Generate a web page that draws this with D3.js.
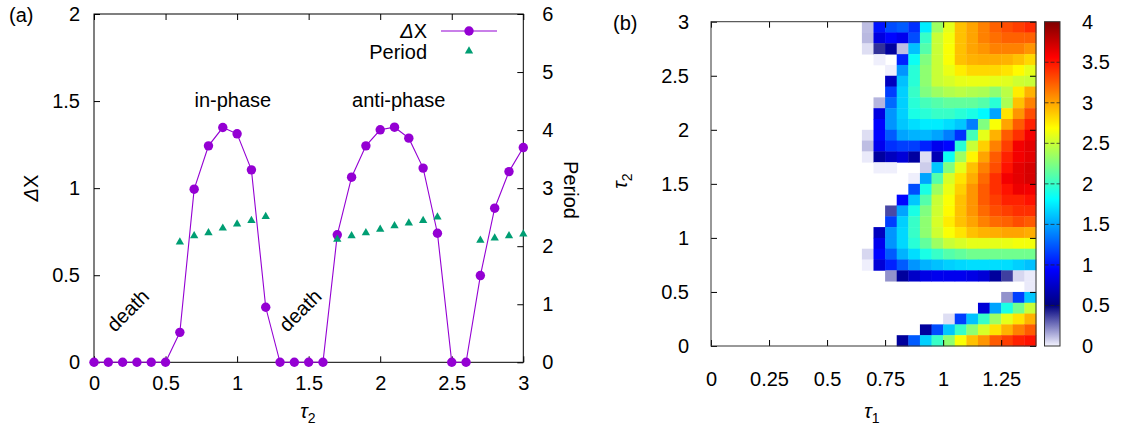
<!DOCTYPE html>
<html>
<head>
<meta charset="utf-8">
<script src="https://cdn.jsdelivr.net/npm/d3@7"></script>
<style>
  body { margin: 0; background: #fff; }
  svg { display: block; font-family: "Liberation Sans", Arial, sans-serif; }
  .tick text { font-size: 20px; fill: #000; }
</style>
</head>
<body>
<div id="chart"></div>
<script>
// ---- panel (a) data ----
const tau2 = [0, 0.1, 0.2, 0.3, 0.4, 0.5, 0.6, 0.7, 0.8, 0.9, 1.0, 1.1, 1.2, 1.3, 1.4, 1.5,
  1.6, 1.7, 1.8, 1.9, 2.0, 2.1, 2.2, 2.3, 2.4, 2.5, 2.6, 2.7, 2.8, 2.9, 3.0];
const deltaX = [0, 0, 0, 0, 0, 0, 0.172, 0.994, 1.243, 1.348, 1.312, 1.105, 0.316, 0, 0, 0,
  0, 0.732, 1.063, 1.243, 1.335, 1.35, 1.287, 1.115, 0.741, 0, 0, 0.498, 0.885, 1.095, 1.233];
const periodTau2 = [0.6, 0.7, 0.8, 0.9, 1.0, 1.1, 1.2, 1.7, 1.8, 1.9, 2.0, 2.1, 2.2, 2.3, 2.4, 2.7, 2.8, 2.9, 3.0];
const period = [2.07, 2.18, 2.23, 2.31, 2.38, 2.44, 2.51, 2.12, 2.18, 2.23, 2.29, 2.35, 2.40, 2.44, 2.50, 2.10, 2.14, 2.18, 2.21];
const xTicksA = [0, 0.5, 1, 1.5, 2, 2.5, 3];
const yTicksA = [0, 0.5, 1, 1.5, 2];
const y2TicksA = [0, 1, 2, 3, 4, 5, 6];

// ---- panel (b) data: rows top (tau2 = 2.95) to bottom (tau2 = 0.05) ----
const tau1Cells = [0.675, 0.725, 0.775, 0.825, 0.875, 0.925, 0.975, 1.025, 1.075, 1.125, 1.175, 1.225, 1.275, 1.325, 1.375];
const tau2Cells = [2.95, 2.85, 2.75, 2.65, 2.55, 2.45, 2.35, 2.25, 2.15, 2.05, 1.95, 1.85, 1.75, 1.65, 1.55,
  1.45, 1.35, 1.25, 1.15, 1.05, 0.95, 0.85, 0.75, 0.65, 0.55, 0.45, 0.35, 0.25, 0.15, 0.05];
const amp = [
  [0.11, 1.0, 1.2, 1.25, 1.1, 1.75, 2.35, 2.6, 2.9, 3.0, 3.12, 3.23, 3.3, 3.35, 3.42],
  [0.12, 0.83, 0.95, 0.88, 1.2, 2.0, 2.5, 2.65, 2.9, 3.0, 3.12, 3.18, 3.23, 3.23, 3.23],
  [0.045, 0.4, 0.61, 0.11, 1.6, 2.1, 2.5, 2.67, 2.9, 3.0, 3.05, 3.12, 3.12, 3.12, 3.05],
  [0, 0.01, 0, 1.05, 1.85, 2.25, 2.5, 2.67, 2.9, 2.95, 2.97, 2.97, 2.95, 2.9, 2.82],
  [0, 0, 0.01, 1.45, 1.95, 2.3, 2.5, 2.62, 2.75, 2.82, 2.82, 2.82, 2.78, 2.7, 2.6],
  [0, 0, 0.72, 1.6, 1.95, 2.3, 2.5, 2.55, 2.6, 2.62, 2.62, 2.6, 2.58, 2.52, 2.5],
  [0, 0, 1.15, 1.65, 2.0, 2.25, 2.35, 2.42, 2.45, 2.42, 2.4, 2.3, 2.45, 2.75, 2.95],
  [0, 0.13, 1.3, 1.65, 1.95, 2.05, 2.1, 2.15, 2.15, 2.15, 2.1, 1.95, 2.4, 2.9, 3.12],
  [0, 0.83, 1.45, 1.65, 1.9, 1.95, 2.0, 2.0, 1.95, 1.9, 1.8, 1.5, 2.78, 3.05, 3.3],
  [0, 0.94, 1.45, 1.62, 1.7, 1.75, 1.75, 1.7, 1.62, 1.37, 2.25, 2.67, 3.0, 3.25, 3.45],
  [0.045, 0.95, 1.25, 1.5, 1.55, 1.57, 1.5, 1.37, 1.1, 2.05, 2.6, 2.95, 3.25, 3.4, 3.6],
  [0.11, 0.88, 1.1, 1.15, 1.15, 1.05, 0.88, 0.95, 1.95, 2.5, 2.85, 3.12, 3.35, 3.6, 3.65],
  [0.02, 0.61, 0.72, 0.8, 0.61, 0.045, 0.68, 1.85, 2.35, 2.72, 3.0, 3.25, 3.45, 3.6, 3.65],
  [0, 0.01, 0.01, 0, 0, 0.08, 1.62, 2.25, 2.6, 2.9, 3.12, 3.3, 3.5, 3.65, 3.7],
  [0, 0, 0, 0, 0.01, 1.5, 2.1, 2.55, 2.78, 2.97, 3.2, 3.4, 3.6, 3.65, 3.7],
  [0, 0, 0, 0, 1.2, 1.9, 2.35, 2.62, 2.85, 3.05, 3.25, 3.4, 3.5, 3.62, 3.6],
  [0, 0, 0, 0.95, 1.62, 2.1, 2.5, 2.67, 2.9, 3.05, 3.25, 3.35, 3.45, 3.45, 3.5],
  [0, 0, 0.35, 1.5, 1.9, 2.25, 2.52, 2.7, 2.9, 3.05, 3.2, 3.3, 3.35, 3.4, 3.4],
  [0, 0, 1.15, 1.65, 2.0, 2.3, 2.55, 2.75, 2.9, 3.0, 3.12, 3.2, 3.23, 3.3, 3.25],
  [0, 0.72, 1.45, 1.68, 2.0, 2.3, 2.52, 2.67, 2.78, 2.9, 2.95, 2.97, 3.0, 3.0, 2.97],
  [0, 0.88, 1.45, 1.68, 1.95, 2.15, 2.35, 2.5, 2.55, 2.6, 2.6, 2.6, 2.62, 2.65, 2.65],
  [0.06, 0.95, 1.25, 1.55, 1.7, 1.9, 2.0, 2.1, 2.15, 2.2, 2.2, 2.2, 2.2, 2.2, 2.2],
  [0.01, 0.8, 1.05, 1.25, 1.45, 1.55, 1.6, 1.65, 1.68, 1.7, 1.7, 1.7, 1.7, 1.65, 1.6],
  [0, 0, 0.2, 0.6, 0.75, 0.85, 0.88, 0.88, 0.88, 0.85, 0.8, 0.6, 0.37, 0.06, 0.02],
  [0, 0, 0, 0, 0, 0, 0, 0, 0, 0, 0, 0, 0, 0, 0.02],
  [0, 0, 0, 0, 0, 0, 0, 0, 0, 0, 0, 0, 0.2, 1.15, 1.62],
  [0, 0, 0, 0, 0, 0, 0, 0, 0, 0, 0.8, 1.5, 1.9, 2.2, 2.5],
  [0, 0, 0, 0, 0, 0, 0, 0.045, 1.15, 1.6, 2.0, 2.35, 2.6, 2.78, 2.95],
  [0, 0, 0, 0, 0, 0.6, 1.2, 1.62, 2.0, 2.3, 2.55, 2.78, 2.95, 3.12, 3.25],
  [0, 0, 0, 0.6, 1.25, 1.65, 2.0, 2.3, 2.67, 2.9, 3.05, 3.25, 3.35, 3.45, 3.5]
];
const xTicksB = [0, 0.25, 0.5, 0.75, 1, 1.25];
const yTicksB = [0, 0.5, 1, 1.5, 2, 2.5, 3];
const cbTicks = [0, 0.5, 1, 1.5, 2, 2.5, 3, 3.5, 4];
const paletteStops = [0, 0.5, 0.9375, 1.8125, 2.6875, 3.5625, 4];
const paletteColors = ['#f4f4ff', '#00007f', '#0000ff', '#00ffff', '#ffff00', '#ff0000', '#7f0000'];

const width = 1126, height = 433;
const purple = '#9400d3', green = '#009e73';

const svg = d3.select('#chart').append('svg')
  .attr('width', width)
  .attr('height', height);

function drawTau(g, x, y, sub, rotate) {
  const t = g.append('text')
    .attr('transform', `translate(${x},${y})` + (rotate ? ` rotate(${rotate})` : ''))
    .attr('text-anchor', 'middle')
    .style('font-size', '20px');
  t.append('tspan').style('font-style', 'italic').text('τ');
  t.append('tspan').attr('dy', 5).style('font-size', '14px').text(sub);
}

// ================= panel (a) =================
function panelA() {
  const x = d3.scaleLinear().domain([0, 3]).range([94, 523.3]);
  const y = d3.scaleLinear().domain([0, 2]).range([362.3, 14]);
  const y2 = d3.scaleLinear().domain([0, 6]).range([362.3, 14]);
  const g = svg.append('g');

  g.append('g').attr('transform', `translate(0,${y(0)})`)
    .call(d3.axisBottom(x).tickValues(xTicksA).tickFormat(d3.format('~g')).tickSize(-6).tickPadding(14));
  g.append('g').attr('transform', `translate(0,${y(2)})`)
    .call(d3.axisTop(x).tickValues(xTicksA).tickFormat('').tickSize(-6));
  g.append('g').attr('transform', `translate(${x(0)},0)`)
    .call(d3.axisLeft(y).tickValues(yTicksA).tickFormat(d3.format('~g')).tickSize(-6).tickPadding(14));
  g.append('g').attr('transform', `translate(${x(3)},0)`)
    .call(d3.axisRight(y2).tickValues(y2TicksA).tickFormat(d3.format('d')).tickSize(-6).tickPadding(19));
  g.selectAll('.domain').remove();
  g.selectAll('.tick line').attr('stroke', '#000');

  g.append('rect')
    .attr('x', x(0)).attr('y', y(2))
    .attr('width', x(3) - x(0)).attr('height', y(0) - y(2))
    .attr('fill', 'none').attr('stroke', '#000').attr('stroke-width', 1);

  // delta X line + points
  const pts = tau2.map((t, i) => [t, deltaX[i]]);
  g.append('path')
    .datum(pts)
    .attr('fill', 'none')
    .attr('stroke', purple)
    .attr('stroke-width', 1.1)
    .attr('d', d3.line().x(d => x(d[0])).y(d => y(d[1])));
  g.selectAll('circle.dx')
    .data(pts)
    .enter()
    .append('circle')
    .attr('class', 'dx')
    .attr('cx', d => x(d[0]))
    .attr('cy', d => y(d[1]))
    .attr('r', 4.7)
    .attr('fill', purple);

  // period triangles
  const tri = d3.symbol().type(d3.symbolTriangle).size(30);
  g.selectAll('path.per')
    .data(periodTau2)
    .enter()
    .append('path')
    .attr('class', 'per')
    .attr('transform', (d, i) => `translate(${x(d)},${y2(period[i])})`)
    .attr('d', tri)
    .attr('fill', green);

  // annotations
  g.append('text').attr('x', x(0.97)).attr('y', y(1.465))
    .attr('text-anchor', 'middle').style('font-size', '20px').text('in-phase');
  g.append('text').attr('x', x(2.13)).attr('y', y(1.465))
    .attr('text-anchor', 'middle').style('font-size', '20px').text('anti-phase');
  [0.27, 1.475].forEach(t => {
    g.append('text')
      .attr('transform', `translate(${x(t)},${y(0.27)}) rotate(-45)`)
      .attr('text-anchor', 'middle').style('font-size', '20px').text('death');
  });

  // legend
  const lg = g.append('g');
  const l1 = lg.append('text').attr('x', 427).attr('y', 38).attr('text-anchor', 'end').style('font-size', '20px');
  l1.append('tspan').style('font-style', 'italic').text('Δ');
  l1.append('tspan').text('X');
  lg.append('line').attr('x1', 441).attr('x2', 497).attr('y1', 31).attr('y2', 31)
    .attr('stroke', purple).attr('stroke-width', 1.1);
  lg.append('circle').attr('cx', 469).attr('cy', 31).attr('r', 4.7).attr('fill', purple);
  lg.append('text').attr('x', 427).attr('y', 59).attr('text-anchor', 'end').style('font-size', '20px').text('Period');
  lg.append('path').attr('transform', 'translate(469,51)').attr('d', tri).attr('fill', green);

  // axis titles
  svg.append('text').attr('x', 9).attr('y', 22).style('font-size', '20px').text('(a)');
  const yl = svg.append('text')
    .attr('transform', 'translate(38,188) rotate(-90)')
    .attr('text-anchor', 'middle').style('font-size', '20px');
  yl.append('tspan').style('font-style', 'italic').text('Δ');
  yl.append('tspan').text('X');
  svg.append('text')
    .attr('transform', 'translate(564,190) rotate(90)')
    .attr('text-anchor', 'middle').style('font-size', '20px').text('Period');
  drawTau(svg, 308, 418, '2');
}

// ================= panel (b) =================
function panelB() {
  const x = d3.scaleLinear().domain([0, 1.4]).range([711, 1036]);
  const y = d3.scaleLinear().domain([0, 3]).range([346, 21.7]);
  const color = d3.scaleLinear().domain(paletteStops).range(paletteColors).clamp(true);
  const g = svg.append('g');
  const halfW = 0.025, halfH = 0.05;

  const cells = [];
  amp.forEach((row, r) => row.forEach((v, c) => {
    if (v > 0) cells.push({ t1: tau1Cells[c], t2: tau2Cells[r], v: v });
  }));
  g.append('g')
    .selectAll('rect')
    .data(cells)
    .enter()
    .append('rect')
    .attr('x', d => x(d.t1 - halfW))
    .attr('y', d => y(d.t2 + halfH))
    .attr('width', d => x(d.t1 + halfW) - x(d.t1 - halfW) + 0.4)
    .attr('height', d => y(d.t2 - halfH) - y(d.t2 + halfH) + 0.4)
    .attr('fill', d => color(d.v));

  g.append('g').attr('transform', `translate(0,${y(0)})`)
    .call(d3.axisBottom(x).tickValues(xTicksB).tickFormat(d3.format('~g')).tickSize(-6).tickPadding(26));
  g.append('g').attr('transform', `translate(0,${y(3)})`)
    .call(d3.axisTop(x).tickValues(xTicksB).tickFormat('').tickSize(-6));
  g.append('g').attr('transform', `translate(${x(0)},0)`)
    .call(d3.axisLeft(y).tickValues(yTicksB).tickFormat(d3.format('~g')).tickSize(-6).tickPadding(22));
  g.append('g').attr('transform', `translate(${x(1.4)},0)`)
    .call(d3.axisRight(y).tickValues(yTicksB).tickFormat('').tickSize(-6));
  g.selectAll('.domain').remove();
  g.selectAll('.tick line').attr('stroke', '#000');

  g.append('rect')
    .attr('x', x(0)).attr('y', y(3))
    .attr('width', x(1.4) - x(0)).attr('height', y(0) - y(3))
    .attr('fill', 'none').attr('stroke', '#333').attr('stroke-width', 1);

  // colorbar
  const cb = d3.scaleLinear().domain([0, 4]).range([346, 21.7]);
  const defs = svg.append('defs');
  const grad = defs.append('linearGradient').attr('id', 'cbgrad')
    .attr('x1', 0).attr('x2', 0).attr('y1', 1).attr('y2', 0);
  paletteStops.forEach((s, i) => {
    grad.append('stop').attr('offset', s / 4).attr('stop-color', paletteColors[i]);
  });
  const cbx = 1044.5, cbw = 15.5;
  g.append('rect').attr('x', cbx).attr('y', cb(4)).attr('width', cbw).attr('height', cb(0) - cb(4))
    .attr('fill', 'url(#cbgrad)');
  g.selectAll('line.cbt')
    .data(cbTicks.slice(1, -1))
    .enter()
    .append('line')
    .attr('class', 'cbt')
    .attr('x1', cbx).attr('x2', cbx + cbw)
    .attr('y1', d => cb(d)).attr('y2', d => cb(d))
    .attr('stroke', '#222').attr('stroke-opacity', 0.75)
    .attr('stroke-dasharray', '4,2');
  g.append('rect').attr('x', cbx).attr('y', cb(4)).attr('width', cbw).attr('height', cb(0) - cb(4))
    .attr('fill', 'none').attr('stroke', '#333').attr('stroke-width', 1);
  g.append('g').attr('transform', `translate(${cbx + cbw},0)`)
    .call(d3.axisRight(cb).tickValues(cbTicks).tickFormat(d3.format('~g')).tickSize(0).tickPadding(22))
    .select('.domain').remove();

  svg.append('text').attr('x', 613).attr('y', 30).style('font-size', '20px').text('(b)');
  drawTau(svg, 627, 181, '2', -90);
  drawTau(svg, 872, 418, '1');
}

panelA();
panelB();
</script>
</body>
</html>
